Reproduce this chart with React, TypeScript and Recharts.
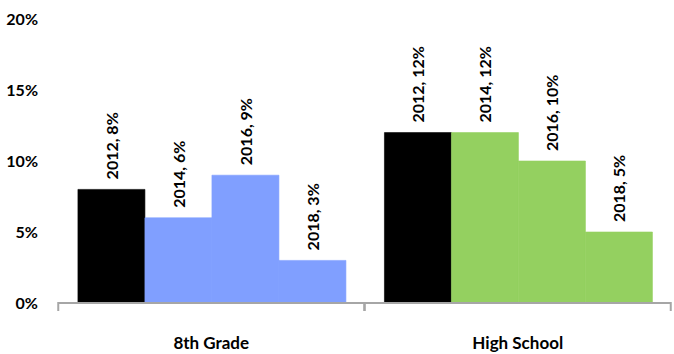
import { BarChart, Bar, XAxis, YAxis, Cell, LabelList } from "recharts";

const categories = ["8th Grade", "High School"];
const years = ["2012", "2014", "2016", "2018"];
const values2012 = [8, 12];
const values2014 = [6, 12];
const values2016 = [9, 10];
const values2018 = [3, 5];
const yTicks = [0, 5, 10, 15, 20];

const seriesValues = [values2012, values2014, values2016, values2018];
const categoryColors = ["#809fff", "#94d060"];
const FONT = "Lato, 'Open Sans', sans-serif";

const data = categories.map((cat, i) => ({
  cat,
  y2012: values2012[i],
  y2014: values2014[i],
  y2016: values2016[i],
  y2018: values2018[i],
}));

function makeLabel(year: string) {
  return (props: any) => {
    const { x, y, width, value } = props;
    const cx = x + width / 2;
    const ty = y - 10;
    return (
      <text
        x={cx}
        y={ty}
        transform={`rotate(-90, ${cx}, ${ty})`}
        textAnchor="start"
        dominantBaseline="central"
        fontFamily={FONT}
        fontWeight={700}
        fontSize={16}
        fill="#000"
      >
        {`${year}, ${value}%`}
      </text>
    );
  };
}

function CategoryTick(props: any) {
  const { x, y, payload } = props;
  const half = 153;
  return (
    <g>
      <line x1={x - half} y1={y - 9} x2={x - half} y2={y} stroke="#a6a6a6" strokeWidth={2} />
      <line x1={x + half} y1={y - 9} x2={x + half} y2={y} stroke="#a6a6a6" strokeWidth={2} />
      <text
        x={x}
        y={y + 38}
        textAnchor="middle"
        fontFamily={FONT}
        fontWeight={700}
        fontSize={17}
        fill="#000"
      >
        {payload.value}
      </text>
    </g>
  );
}

export default function App() {
  return (
    <div style={{ position: "fixed", left: 0, top: 0, width: 674, height: 354, background: "#fff" }}>
      <BarChart
        width={674}
        height={354}
        data={data}
        margin={{ top: 19, right: 3, bottom: 0, left: 0 }}
        barGap={0}
        barCategoryGap="6.5%"
      >
        <XAxis
          dataKey="cat"
          axisLine={{ stroke: "#a6a6a6", strokeWidth: 2 }}
          tickLine={false}
          tick={<CategoryTick />}
          interval={0}
          height={51}
        />
        <YAxis
          domain={[0, 20]}
          ticks={yTicks}
          axisLine={false}
          tickLine={false}
          width={58}
          tickFormatter={(v) => `${v}%`}
          tick={{ fontFamily: FONT, fontWeight: 700, fontSize: 16, fill: "#000" }}
          dx={-12}
        />
        {years.map((year, si) => (
          <Bar key={year} dataKey={`y${year}`} isAnimationActive={false}>
            {seriesValues[si].map((_, ci) => {
              const color = si === 0 ? "#000000" : categoryColors[ci];
              return <Cell key={ci} fill={color} stroke={color} strokeWidth={0.6} />;
            })}
            <LabelList dataKey={`y${year}`} content={makeLabel(year)} />
          </Bar>
        ))}
      </BarChart>
    </div>
  );
}
